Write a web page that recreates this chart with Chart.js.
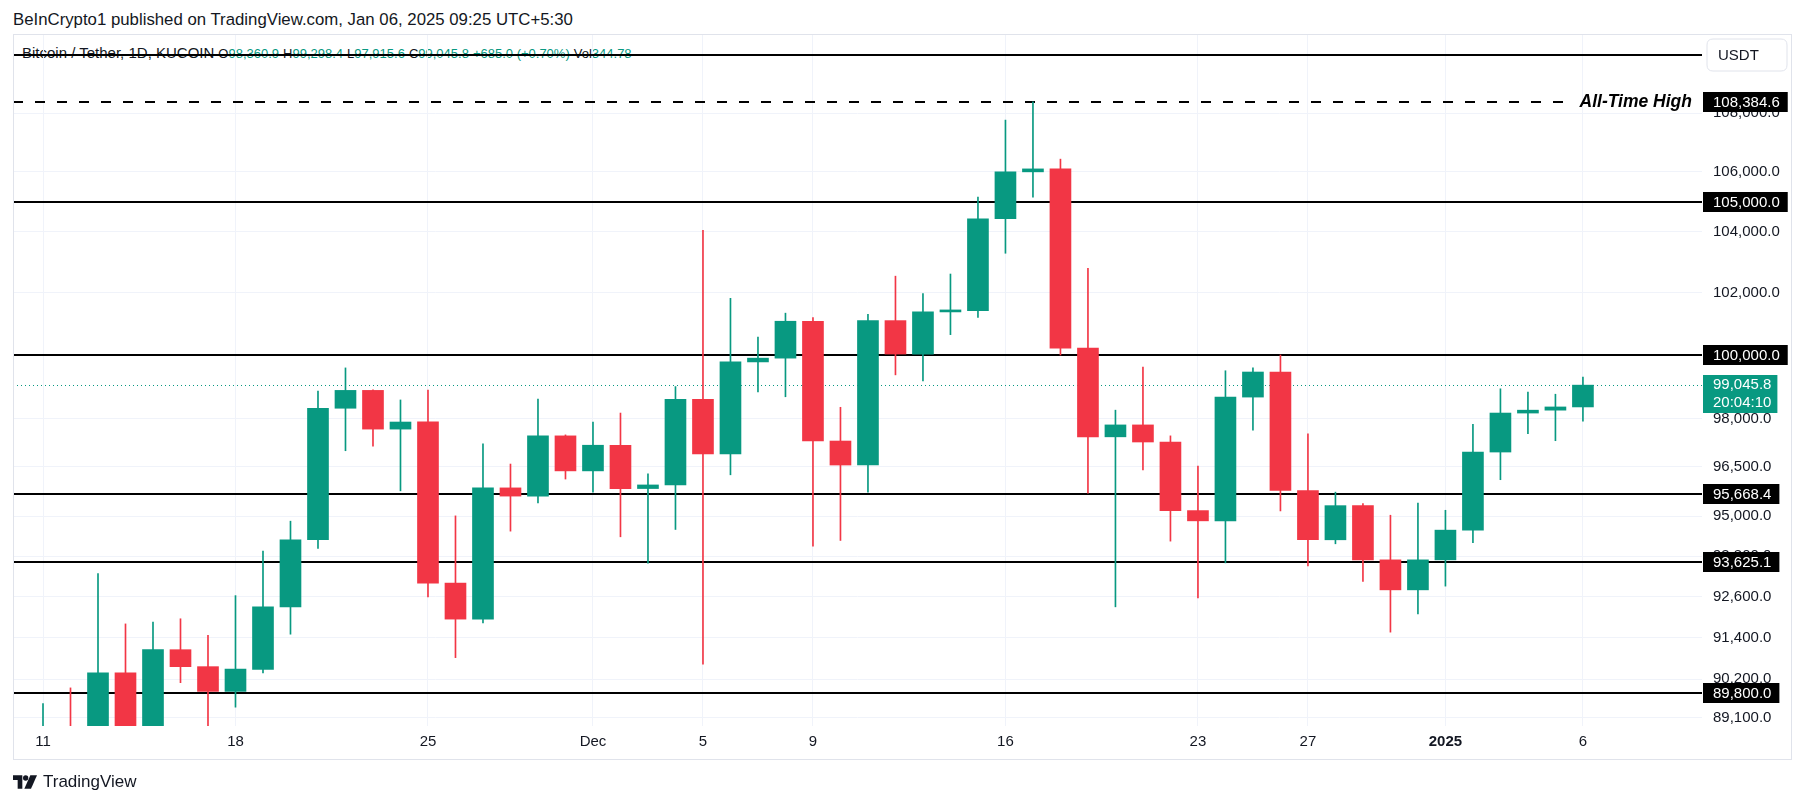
<!DOCTYPE html>
<html>
<head>
<meta charset="utf-8">
<script src="https://cdn.jsdelivr.net/npm/chart.js@4.4.1/dist/chart.umd.min.js"></script>
<style>
  html,body{margin:0;padding:0;background:#ffffff;}
  #wrap{position:relative;width:1805px;height:803px;overflow:hidden;font-family:"Liberation Sans",Arial,sans-serif;color:#131722;}
  #title{position:absolute;left:13px;top:9px;font-size:16.8px;line-height:22px;color:#131722;white-space:nowrap;z-index:0;}
  #legend{position:absolute;left:22px;top:44px;font-size:15px;line-height:18px;color:#131722;white-space:nowrap;z-index:0;}
  #legend .s{font-size:13px;}
  #legend .v{color:#089981;}
  #legend .g{margin-left:4px;}
  #c{position:absolute;left:0;top:0;z-index:1;}
  #footer{position:absolute;left:13px;top:772px;height:20px;display:flex;align-items:center;z-index:2;}
  #footer span{font-size:17px;color:#131722;margin-left:6px;}
</style>
</head>
<body>
<div id="wrap">
  <div id="title">BeInCrypto1 published on TradingView.com, Jan 06, 2025 09:25 UTC+5:30</div>
  <div id="legend">Bitcoin / Tether, 1D, KUCOIN<span class="s"><span class="g">O</span><span class="v">98,360.9</span><span class="g">H</span><span class="v">99,298.4</span><span class="g">L</span><span class="v">97,915.6</span><span class="g">C</span><span class="v">99,045.8</span><span class="g v">+685.0 (+0.70%)</span><span class="g">Vol</span><span class="v">344.78</span></span></div>
  <canvas id="c" width="1805" height="803"></canvas>
  <div id="footer">
    <svg width="24" height="14" viewBox="0 0 36 20"><path d="M0 0h14v20H7V7H0z" fill="#131722"/><circle cx="19" cy="4" r="4" fill="#131722"/><path d="M26 0h10L27 20H17z" fill="#131722"/></svg>
    <span>TradingView</span>
  </div>
</div>
<script>
// ---- data (daily candles, Nov 11 2024 .. Jan 6 2025) ----
const dates = ['Nov 11','Nov 12','Nov 13','Nov 14','Nov 15','Nov 16','Nov 17','Nov 18','Nov 19','Nov 20',
  'Nov 21','Nov 22','Nov 23','Nov 24','Nov 25','Nov 26','Nov 27','Nov 28','Nov 29','Nov 30',
  'Dec 1','Dec 2','Dec 3','Dec 4','Dec 5','Dec 6','Dec 7','Dec 8','Dec 9','Dec 10',
  'Dec 11','Dec 12','Dec 13','Dec 14','Dec 15','Dec 16','Dec 17','Dec 18','Dec 19','Dec 20',
  'Dec 21','Dec 22','Dec 23','Dec 24','Dec 25','Dec 26','Dec 27','Dec 28','Dec 29','Dec 30',
  'Dec 31','Jan 1','Jan 2','Jan 3','Jan 4','Jan 5','Jan 6'];
const opens  = [80400,88700,87950,90380,87300,91050,90560,89850,90480,92300,
  94290,98320,98880,97670,97900,93000,91940,95860,95610,97460,
  96380,97170,95840,95950,98600,96900,99780,99900,101080,97300,
  96560,101100,100030,101380,101420,104430,106000,106100,100220,97430,
  97800,97270,95170,94860,98670,99460,95780,94290,95320,93690,
  92800,93690,94580,96960,98170,98260,98360.9];
const highs  = [89500,89950,93280,91800,91850,91950,91470,92630,93950,94850,
  98860,99590,98900,98580,98890,95010,97210,96590,98610,97490,
  97890,98170,96290,99000,104050,101820,100570,101340,101200,98350,
  101300,102540,101970,102610,105150,107760,108384.6,106430,102800,98260,
  99620,97460,96530,99500,99590,100000,97520,95730,95380,95030,
  95400,95180,97820,98930,98830,98760,99298.4];
const lows   = [80200,85100,86250,86700,87100,90100,88700,89400,90380,91500,
  94030,97000,97140,95770,92590,90820,91830,94550,95400,96130,
  95730,94380,93590,94600,90630,96260,98830,98680,94100,94270,
  95730,99370,99180,100650,101200,103290,105150,100000,95700,92300,
  96410,94250,92560,93600,97640,95160,93510,94170,93050,91560,
  92090,92910,94200,96110,97530,97310,97915.6];
const closes = [88700,87950,90380,87300,91050,90560,89850,90490,92300,94290,
  98320,98880,97670,97890,93000,91940,95860,95610,97460,96380,
  97170,95840,95950,98600,96900,99780,99900,101080,97300,96560,
  101100,100030,101380,101420,104430,106000,106100,100220,97430,97800,
  97270,95170,94860,98670,99460,95780,94290,95320,93690,92800,
  93690,94580,96960,98170,98260,98360.9,99045.8];

// axis ticks
const xTickDays   = [0,7,14,20,24,28,35,42,46,51,56];
const xTickLabels = ['11','18','25','Dec','5','9','16','23','27','2025','6'];
const yTicks = [108000,106000,104000,102000,100000,98000,96500,95000,93800,92600,91400,90200,89100];

// drawn price levels
const levelLines = [110000,105000,100000,95668.4,93625.1,89800];
const levelLabels = [null,'105,000.0','100,000.0','95,668.4','93,625.1','89,800.0'];
const athValue = 108384.6, athLabel = '108,384.6', athText = 'All-Time High';
const lastPrice = 99045.8, lastPriceLabel = '99,045.8', countdown = '20:04:10';

const UP = '#089981', DOWN = '#f23645';
const dayIdx = dates.map((d,i)=>i);
const colors = closes.map((c,i)=> c >= opens[i] ? UP : DOWN);
const FONT = '"Liberation Sans", Arial, sans-serif';

const levelsPlugin = {
  id:'levels',
  beforeDatasetsDraw(chart){
    const {ctx, chartArea:a, scales:{y}} = chart;
    ctx.save();
    ctx.beginPath(); ctx.rect(a.left, a.top, a.right-a.left, a.bottom-a.top); ctx.clip();
    ctx.strokeStyle = '#000000'; ctx.lineWidth = 2;
    levelLines.forEach(v=>{
      const py = Math.round(y.getPixelForValue(v));
      ctx.beginPath(); ctx.moveTo(a.left, py); ctx.lineTo(a.right, py); ctx.stroke();
    });
    // ATH dashed
    const ay = Math.round(y.getPixelForValue(athValue));
    ctx.font = 'italic bold 17.5px ' + FONT;
    const tw = ctx.measureText(athText).width;
    ctx.setLineDash([10,12]);
    ctx.beginPath(); ctx.moveTo(a.left, ay); ctx.lineTo(a.right - 10 - tw - 8, ay); ctx.stroke();
    ctx.setLineDash([]);
    ctx.fillStyle = '#000'; ctx.textBaseline = 'middle'; ctx.textAlign = 'right';
    ctx.fillText(athText, a.right - 10, ay);
    // last price dotted
    const ly = Math.round(y.getPixelForValue(lastPrice)) + 0.5;
    ctx.strokeStyle = UP; ctx.lineWidth = 1; ctx.setLineDash([1,3]);
    ctx.beginPath(); ctx.moveTo(a.left, ly); ctx.lineTo(a.right, ly); ctx.stroke();
    ctx.restore();
  },
  afterDraw(chart){
    const {ctx, chartArea:a, scales:{y}} = chart;
    ctx.save();
    // frame
    ctx.strokeStyle = '#e0e3eb'; ctx.lineWidth = 1;
    ctx.strokeRect(13.5, 34.5, 1791.5-13.5, 759.5-34.5);
    ctx.font = '15px ' + FONT; ctx.textBaseline = 'middle'; ctx.textAlign = 'left';
    const box = (txt, v, bg) => {
      const py = Math.round(y.getPixelForValue(v));
      const w = ctx.measureText(txt).width;
      ctx.fillStyle = bg; ctx.fillRect(a.right + 1, py - 10, w + 18, 20);
      ctx.fillStyle = '#ffffff'; ctx.fillText(txt, a.right + 11, py + 1);
    };
    levelLines.forEach((v,i)=>{ if(levelLabels[i]) box(levelLabels[i], v, '#000000'); });
    box(athLabel, athValue, '#000000');
    // last price box
    const py = Math.round(y.getPixelForValue(lastPrice));
    const w = ctx.measureText(lastPriceLabel).width;
    ctx.fillStyle = UP; ctx.fillRect(a.right + 1, py - 10, w + 16, 38);
    ctx.fillStyle = '#ffffff';
    ctx.fillText(lastPriceLabel, a.right + 11, py);
    ctx.fillText(countdown, a.right + 11, py + 18);
    // currency box
    const bx = 1707, by = 39, bw = 80, bh = 32, r = 6;
    ctx.beginPath();
    ctx.moveTo(bx+r,by); ctx.lineTo(bx+bw-r,by); ctx.quadraticCurveTo(bx+bw,by,bx+bw,by+r);
    ctx.lineTo(bx+bw,by+bh-r); ctx.quadraticCurveTo(bx+bw,by+bh,bx+bw-r,by+bh);
    ctx.lineTo(bx+r,by+bh); ctx.quadraticCurveTo(bx,by+bh,bx,by+bh-r);
    ctx.lineTo(bx,by+r); ctx.quadraticCurveTo(bx,by,bx+r,by); ctx.closePath();
    ctx.fillStyle = '#ffffff'; ctx.fill(); ctx.strokeStyle = '#e0e3eb'; ctx.stroke();
    ctx.fillStyle = '#131722'; ctx.fillText('USDT', bx + 11, by + bh/2 + 1);
    ctx.restore();
  }
};

new Chart(document.getElementById('c'), {
  type: 'bar',
  data: {
    datasets: [
      { label:'wick', data: dayIdx.map(i=>({x:i, y:[lows[i], highs[i]]})), backgroundColor: colors,
        grouped:false, barThickness:1, maxBarThickness:1, borderWidth:0, order:2 },
      { label:'body', data: dayIdx.map(i=>({x:i, y:[Math.min(opens[i],closes[i]), Math.max(opens[i],closes[i])]})), backgroundColor: colors,
        grouped:false, barThickness:21, maxBarThickness:21, minBarLength:2, borderWidth:0, order:1 }
    ]
  },
  options: {
    responsive:false, animation:false, devicePixelRatio:1,
    layout:{ padding:{ left:13, top:34, right:14, bottom:44 } },
    plugins:{ legend:{display:false}, tooltip:{enabled:false} },
    scales:{
      x:{ type:'linear', min:-1.091, max:60.33, offset:false,
        afterBuildTicks: s => { s.ticks = xTickDays.map(v=>({value:v})); },
        afterFit: s => { s.height = 33; },
        ticks:{ autoSkip:false, maxRotation:0, padding:7, color:'#131722',
          font: c => ({ family: FONT, size:15, weight: (c.tick && c.tick.value===51) ? 'bold' : 'normal' }),
          callback: (v) => { const k = xTickDays.indexOf(v); return k>=0 ? xTickLabels[k] : ''; } },
        grid:{ color:'#f0f3fa', drawTicks:false, offset:false },
        border:{ display:false }
      },
      y:{ type:'logarithmic', position:'right', min:88866, max:110753,
        afterBuildTicks: s => { s.ticks = yTicks.map(v=>({value:v})); },
        afterFit: s => { s.width = 89; },
        ticks:{ padding:11, color:'#131722', font:{ family: FONT, size:15 },
          callback: v => Number(v).toLocaleString('en-US',{minimumFractionDigits:1, maximumFractionDigits:1}) },
        grid:{ color:'#f0f3fa', drawTicks:false, offset:false },
        border:{ display:false }
      }
    }
  },
  plugins:[levelsPlugin]
});
</script>
</body>
</html>
